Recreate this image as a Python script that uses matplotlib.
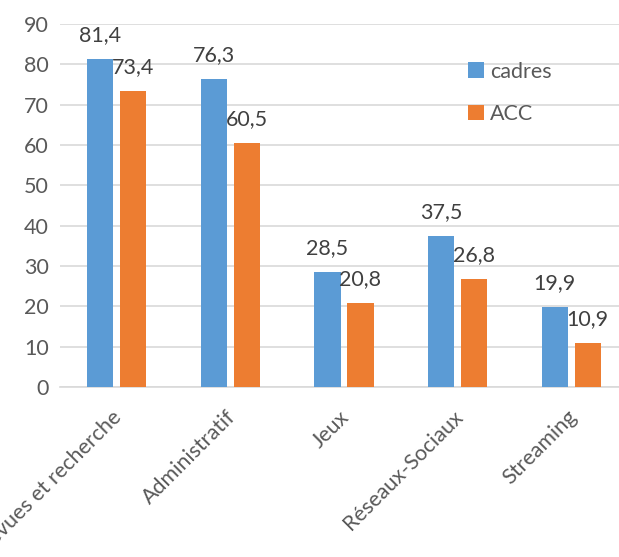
import numpy as np
import matplotlib
matplotlib.use("Agg")
import matplotlib.pyplot as plt
import matplotlib.transforms as mtransforms

categories = ["Revues et recherche", "Administratif", "Jeux", "Réseaux-Sociaux", "Streaming"]
cadres = [81.4, 76.3, 28.5, 37.5, 19.9]
acc = [73.4, 60.5, 20.8, 26.8, 10.9]

plt.rcParams['font.family'] = ['Lato', 'DejaVu Sans']
grey = '#595959'
fs = 15.5

fig = plt.figure(figsize=(6.19, 5.57), dpi=100)
ax = fig.add_axes([60 / 619, 1 - 387 / 557, 568 / 619, 363 / 557])

x = np.arange(len(categories))
w = 0.23
off = 0.145
b1 = ax.bar(x - off, cadres, w, color='#5B9BD5', label='cadres', zorder=3)
b2 = ax.bar(x + off, acc, w, color='#ED7D31', label='ACC', zorder=3)

for bars, vals in ((b1, cadres), (b2, acc)):
    for r, v in zip(bars, vals):
        ax.text(r.get_x() + r.get_width() / 2, v + 3.4, f"{v:.1f}".replace('.', ','),
                ha='center', va='bottom', fontsize=fs, color='#404040', zorder=4)

ax.set_xlim(-0.5, len(categories) - 0.5)
ax.set_ylim(0, 90)
ax.set_yticks(range(0, 91, 10))
ax.yaxis.grid(True, color='#D9D9D9', linewidth=1.2, zorder=0)
ax.set_axisbelow(True)
for s in ('top', 'right', 'left'):
    ax.spines[s].set_visible(False)
ax.spines['bottom'].set_color('#D9D9D9')
ax.spines['bottom'].set_linewidth(1.2)
ax.tick_params(axis='both', length=0, labelsize=fs, labelcolor=grey)
ax.tick_params(axis='y', pad=8)

ax.set_xticks(x)
ax.set_xticklabels(categories, rotation=45, ha='right', va='center', rotation_mode='anchor')
shift = mtransforms.ScaledTranslation(2 / 100, -22 / 100, fig.dpi_scale_trans)
for lbl in ax.get_xticklabels():
    lbl.set_transform(lbl.get_transform() + shift)

ax.legend(loc='upper left', bbox_to_anchor=(0.685, 0.95), frameon=False, fontsize=fs,
          labelcolor=grey, handlelength=0.7, handleheight=0.7, handletextpad=0.3,
          labelspacing=1.05)

fig.savefig('out.png', dpi=100)
